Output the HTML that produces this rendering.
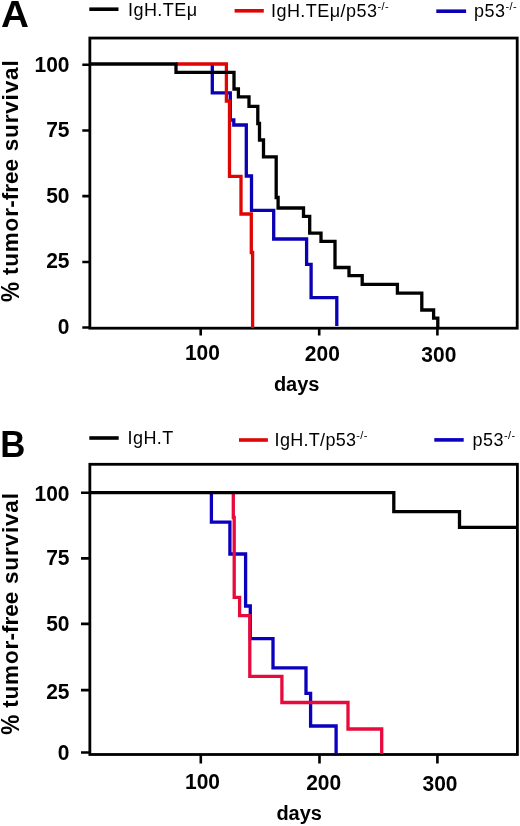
<!DOCTYPE html>
<html><head><meta charset="utf-8">
<style>
html,body{margin:0;padding:0;background:#fff;}
body{width:520px;height:826px;overflow:hidden;}
svg{display:block;filter:blur(0.35px);}
text{font-family:"Liberation Sans",sans-serif;}
.b{font-weight:bold;}
</style></head>
<body>
<svg width="520" height="826" viewBox="0 0 520 826">
<g fill="none" stroke-linecap="butt" stroke-linejoin="miter">
<!-- Panel A frame -->
<rect x="89.85" y="38.05" width="427.35" height="290.15" stroke="#000" stroke-width="2.8"/>
<path d="M82.3 64.75H90 M82.3 130.5H90 M82.3 196.1H90 M82.3 262H90 M82.3 327.5H90" stroke="#000" stroke-width="2.6"/>
<path d="M200.7 328V335.4 M319.2 328V335.4 M437.4 328V335.4" stroke="#000" stroke-width="2.6"/>
<!-- Panel A curves -->
<path d="M212.3 64V92.8H230.3V120H233.8V125H246.3V176H251.5V210.3H273.7V239H306.6V264.3H311.1V297.6H336.8V326" stroke="#0a00b4" stroke-width="3.3"/>
<path d="M176 64H226.4V101H229.5V176.3H241V214H251.3V252.5H252.6V328" stroke="#e00505" stroke-width="3.3"/>
<path d="M89 64H176V72.3H234V89H238.4V96.9H249V106.4H257.8V123.5H259.5V140H263.5V156.9H276.2V197.5H278.1V208H303.5V216.3H309.7V233.1H321V241.3H335V267.5H349V275.6H362.2V284.4H397.4V293.1H421.8V310H433.6V318.1H437.8V328" stroke="#000" stroke-width="3.3"/>
<!-- Panel A legend lines -->
<path d="M89.3 9.2H118.5" stroke="#000" stroke-width="3.6"/>
<path d="M234.6 10.8H263.8" stroke="#e00505" stroke-width="3.6"/>
<path d="M436.3 11.2H466.1" stroke="#0a00b4" stroke-width="3.6"/>

<!-- Panel B frame -->
<rect x="89.85" y="464.3" width="427.55" height="290.2" stroke="#000" stroke-width="2.8"/>
<path d="M81 492.8H90 M81 558.4H90 M81 623.9H90 M81 690.1H90 M81 752.5H90" stroke="#000" stroke-width="2.6"/>
<path d="M200.8 754.5V763.5 M319.5 754.5V763.5 M437.4 754.5V763.5" stroke="#000" stroke-width="2.6"/>
<!-- Panel B curves -->
<path d="M211.4 492.6V522.2H229.9V554H245.6V606H250.3V638.7H273V667.8H306V693.4H310.6V726H336.1V754" stroke="#0a00be" stroke-width="3.3"/>
<path d="M233.3 492.6V517.5H234.2V597.4H239.6V615.6H249.8V676.3H281.9V702.5H348V729H381.7V754" stroke="#e80a3c" stroke-width="3.3"/>
<path d="M89 492.6H393.8V511.6H459.5V527.3H516.8" stroke="#000" stroke-width="3.3"/>
<!-- Panel B legend lines -->
<path d="M89.3 438H118.7" stroke="#000" stroke-width="3.6"/>
<path d="M239 440H267.9" stroke="#e00505" stroke-width="3.6"/>
<path d="M434.3 439.9H463.7" stroke="#0a00be" stroke-width="3.6"/>
</g>

<g fill="#000">
<!-- panel letters -->
<text class="b" transform="translate(1.0 27.4) scale(1.03 1)" font-size="37.6">A</text>
<text class="b" transform="translate(0.2 456.9) scale(0.94 1)" font-size="37">B</text>

<!-- A y tick labels -->
<g class="b" font-size="21" text-anchor="end">
<text transform="translate(69.5 72.1) scale(1 1.07)">100</text>
<text transform="translate(69.5 137.3) scale(1 1.07)">75</text>
<text transform="translate(69.5 203.3) scale(1 1.07)">50</text>
<text transform="translate(69.5 268.3) scale(1 1.07)">25</text>
<text transform="translate(69.5 334.1) scale(1 1.07)">0</text>
</g>
<g class="b" font-size="21" text-anchor="middle">
<text transform="translate(202.4 360.2) scale(1 1.07)">100</text>
<text transform="translate(322.3 361.3) scale(1 1.07)">200</text>
<text transform="translate(438.8 362) scale(1 1.07)">300</text>
<text x="296.7" y="391.2" font-size="20">days</text>
</g>
<g class="b" font-size="22.5" transform="translate(18.4 301.3) rotate(-90)"><text x="-0.8" y="0.6" transform="scale(1 1.15)">%</text><text x="26.26" y="0" letter-spacing="0.8">tumor</text><text x="93.5" y="0">-free</text><text x="150" y="0" textLength="91" lengthAdjust="spacing">survival</text></g>

<!-- A legend text -->
<g font-size="18" letter-spacing="0.45">
<text x="128" y="16.2">IgH.TEμ</text>
<text x="271" y="16.8">IgH.TEμ/p53<tspan font-size="11" dy="-7">-/-</tspan></text>
<text x="474" y="17.3">p53<tspan font-size="11" dy="-7">-/-</tspan></text>
</g>

<!-- B y tick labels -->
<g class="b" font-size="21" text-anchor="end">
<text transform="translate(69.5 500.6) scale(1 1.07)">100</text>
<text transform="translate(69.5 565) scale(1 1.07)">75</text>
<text transform="translate(69.5 630.6) scale(1 1.07)">50</text>
<text transform="translate(69.5 698.7) scale(1 1.07)">25</text>
<text transform="translate(69.5 759.6) scale(1 1.07)">0</text>
</g>
<g class="b" font-size="21" text-anchor="middle">
<text transform="translate(202.5 789.4) scale(1 1.07)">100</text>
<text transform="translate(323.7 790) scale(1 1.07)">200</text>
<text transform="translate(440 791.1) scale(1 1.07)">300</text>
<text x="299.2" y="819.6" font-size="20">days</text>
</g>
<g class="b" font-size="22.5" transform="translate(18.2 734) rotate(-90)"><text x="-0.8" y="0.6" transform="scale(1 1.15)">%</text><text x="26.26" y="0" letter-spacing="0.8">tumor</text><text x="93.5" y="0">-free</text><text x="150" y="0" textLength="91" lengthAdjust="spacing">survival</text></g>

<!-- B legend text -->
<g font-size="18" letter-spacing="0.45">
<text x="127.5" y="444.2">IgH.T</text>
<text x="274.6" y="446.1" letter-spacing="0.3">IgH.T/p53<tspan font-size="11" dy="-7">-/-</tspan></text>
<text x="472.5" y="446">p53<tspan font-size="11" dy="-7">-/-</tspan></text>
</g>
</g>
</svg>
</body></html>
